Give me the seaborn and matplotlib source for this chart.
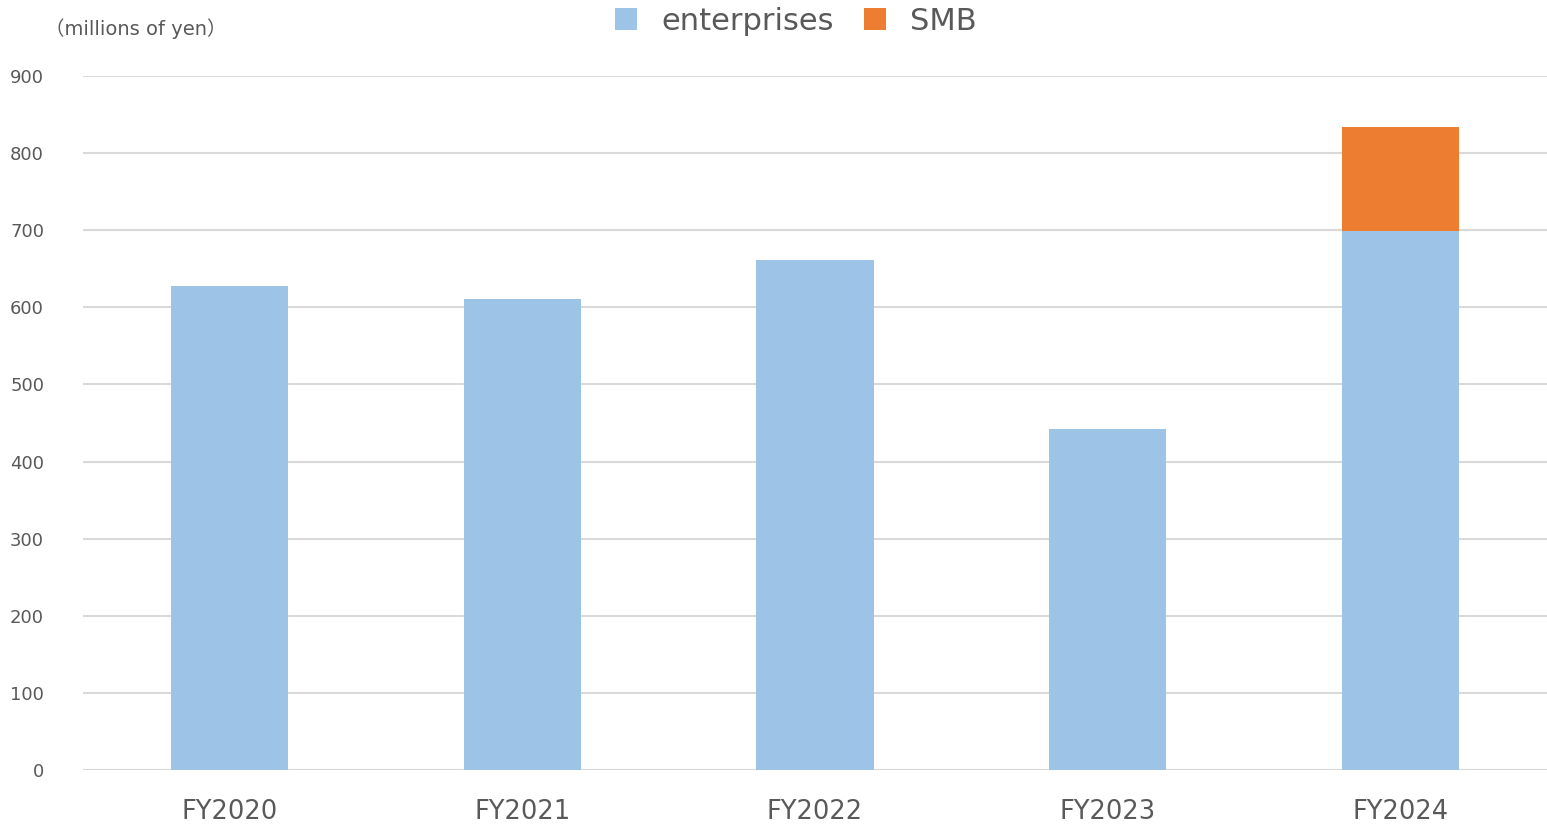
import matplotlib
matplotlib.use("Agg")
import matplotlib.pyplot as plt
from matplotlib.patches import Patch
import seaborn as sns
import pandas as pd

# Sales by customer segment (millions of yen)
years = ["FY2020", "FY2021", "FY2022", "FY2023", "FY2024"]
enterprises = [628, 611, 661, 442, 699]
smb = [0, 0, 0, 0, 135]

BLUE = "#9DC3E6"
ORANGE = "#ED7D31"
TEXT = "#595959"
GRID = "#D9D9D9"

sns.set_theme(style="white")
plt.rcParams["font.family"] = ["DejaVu Sans", "Noto Sans CJK JP"]

df = pd.DataFrame({"year": years, "enterprises": enterprises, "smb": smb})
df["total"] = df["enterprises"] + df["smb"]

fig = plt.figure(figsize=(15.47, 8.27), dpi=100)
ax = fig.add_axes([83 / 1547, 1 - 770 / 827, (1547 - 83) / 1547, (770 - 76) / 827])

# stacked columns: total in orange underneath, enterprise share drawn over it
sns.barplot(data=df, x="year", y="total", color=ORANGE, width=0.4,
            saturation=1, linewidth=0, ax=ax, zorder=3)
sns.barplot(data=df, x="year", y="enterprises", color=BLUE, width=0.4,
            saturation=1, linewidth=0, ax=ax, zorder=3)

ax.set_ylim(0, 900)
ax.set_xlim(-0.5, 4.5)
ax.set_yticks(range(0, 901, 100))
ax.yaxis.grid(True, color=GRID, linewidth=1.5, zorder=0)
ax.set_axisbelow(True)
for s in ax.spines.values():
    s.set_visible(False)
ax.set_xlabel("")
ax.set_ylabel("")
ax.tick_params(axis="y", length=0, pad=28, labelsize=13, labelcolor=TEXT)
ax.tick_params(axis="x", length=0, pad=21, labelsize=18.5, labelcolor=TEXT)

fig.text(45 / 1547, 1 - 29 / 827, "（millions of yen）", fontsize=14, color=TEXT,
         va="center", ha="left")

handles = [Patch(facecolor=BLUE, edgecolor="none", label="enterprises"),
           Patch(facecolor=ORANGE, edgecolor="none", label="SMB")]
fig.legend(handles=handles, loc="center", bbox_to_anchor=(796 / 1547, 1 - 21 / 827),
           ncol=2, frameon=False, fontsize=22, labelcolor=TEXT,
           handlelength=0.7, handleheight=0.7, handletextpad=0.8, columnspacing=1.0)

fig.savefig("out.png", dpi=100)
